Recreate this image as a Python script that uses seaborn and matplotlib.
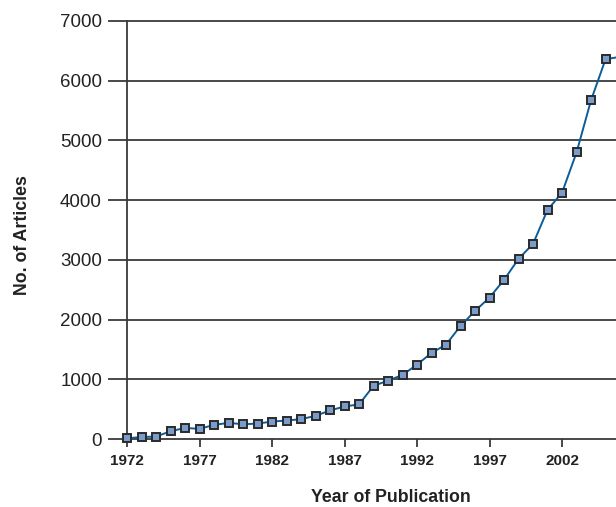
import pandas as pd
import matplotlib.pyplot as plt
import seaborn as sns

anos = list(range(1972, 2007))
artigos = [
    10, 34, 40, 130, 185, 170, 236, 270, 247, 258,
    292, 309, 332, 388, 478, 545, 579, 890, 978, 1073,
    1246, 1441, 1581, 1894, 2145, 2369, 2665, 3017, 3268, 3838,
    4125, 4799, 5674, 6360, 6400,
]
ticks_x = [1972, 1977, 1982, 1987, 1992, 1997, 2002]
ticks_y = [0, 1000, 2000, 3000, 4000, 5000, 6000, 7000]

df = pd.DataFrame({"Ano": anos, "Artigos": artigos})

sns.set_style("white")
plt.rcParams["font.family"] = ["Liberation Sans", "DejaVu Sans"]

fig = plt.figure(figsize=(6.16, 5.07), dpi=100)
ax = fig.add_axes([127 / 616, 68 / 507, 489 / 616, 418 / 507])

cor_grelha = "#3a3a3a"
cor_texto = "#222222"
for v in ticks_y:
    ax.axhline(v, color=cor_grelha, lw=1.3, zorder=1, clip_on=False)

# o ultimo ponto (2006) fica fora da figura, so a linha aparece
sns.lineplot(
    data=df, x="Ano", y="Artigos", ax=ax,
    color="#0b5d9a", lw=1.4, marker="s", markersize=6,
    markerfacecolor="#7a9ccc", markeredgecolor="#2a2a2a", markeredgewidth=1.4,
    markevery=list(range(len(anos) - 1)),
    clip_on=False, zorder=3,
)

ax.set_xlim(1972, 2005.72)
ax.set_ylim(0, 7000)
ax.set_xticks(ticks_x)
ax.set_yticks(ticks_y)
ax.set_xticklabels([str(t) for t in ticks_x], fontweight="bold", fontsize=11, color=cor_texto)
ax.set_yticklabels([str(t) for t in ticks_y], fontsize=13.5, color=cor_texto)

for s in ["top", "right", "bottom"]:
    ax.spines[s].set_visible(False)
ax.spines["left"].set_color(cor_grelha)
ax.spines["left"].set_linewidth(1.3)
ax.spines["left"].set_bounds(0, 7000)

ax.tick_params(axis="y", direction="out", length=14, width=1.3, color=cor_grelha, pad=4, left=True)
ax.tick_params(axis="x", direction="out", length=6, width=1.3, color=cor_grelha, pad=5, bottom=True)

ax.set_xlabel("Year of Publication", fontweight="bold", fontsize=12.8, color=cor_texto)
ax.set_ylabel("No. of Articles", fontweight="bold", fontsize=12.8, color=cor_texto)
ax.xaxis.set_label_coords((391 - 127) / 489, -(497 - 439) / 418)
ax.yaxis.set_label_coords(-(127 - 23) / 489, (439 - 235) / 418)
ax.xaxis.label.set_va("center")
ax.yaxis.label.set_va("center")

fig.savefig("out.png", dpi=100)
